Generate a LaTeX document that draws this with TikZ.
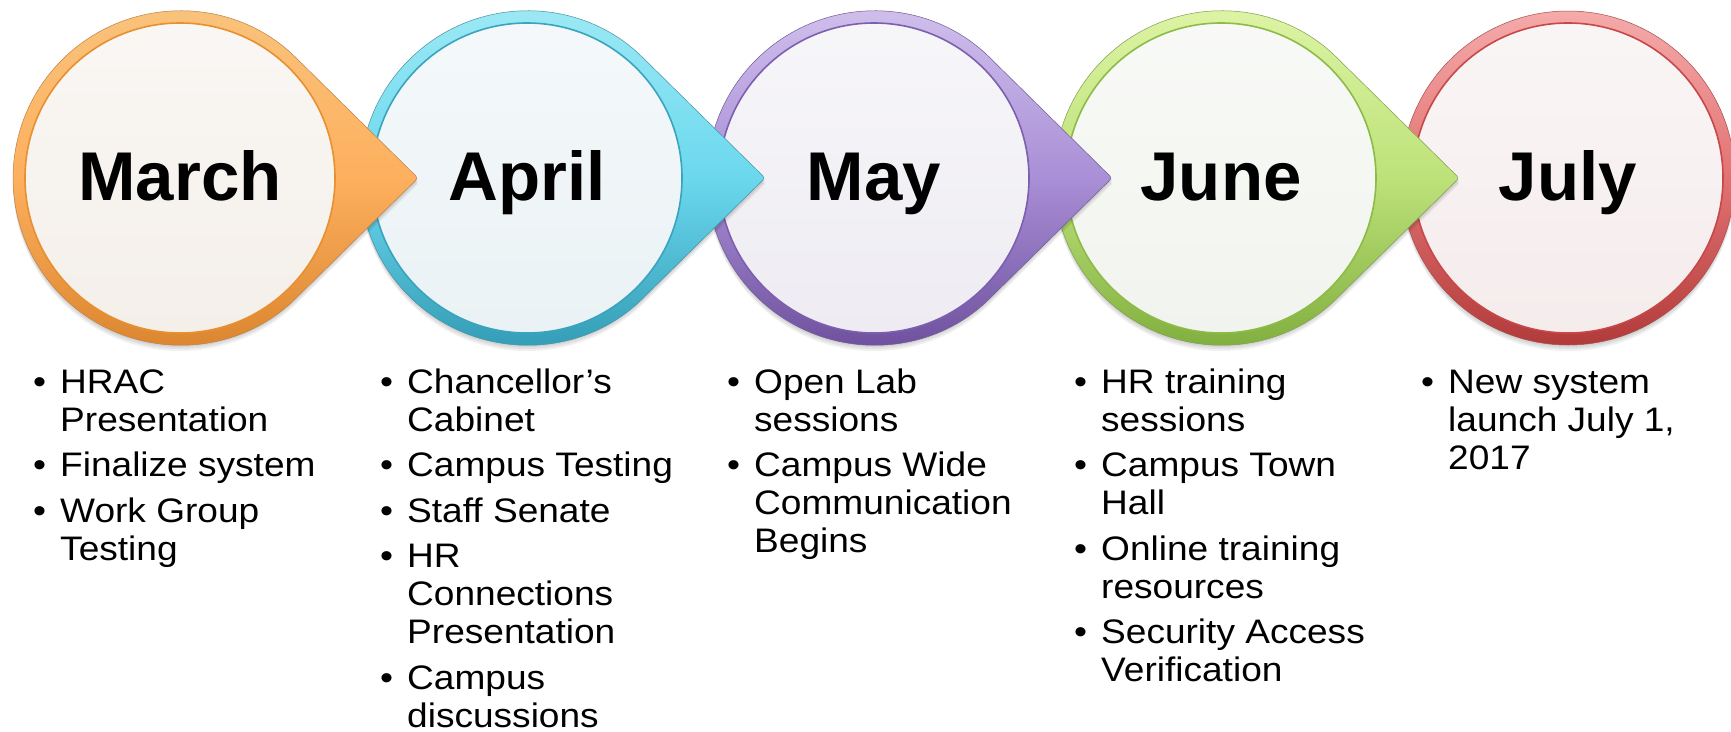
\documentclass[tikz,border=0pt]{standalone}
\usepackage{fontspec}
\setmainfont{Liberation Sans}
\newfontfamily\bodyfont[FakeStretch=1.09]{Liberation Sans}

% ring colours: light top, saturated middle, dark bottom, face fill, face outline
\definecolor{orTop}{HTML}{F9C47E}\definecolor{orMid}{HTML}{FDB05E}\definecolor{orBot}{HTML}{D9822C}
\definecolor{orIn}{HTML}{F4EFE9}\definecolor{orLine}{HTML}{E88F30}
\definecolor{cyTop}{HTML}{A0EAF5}\definecolor{cyMid}{HTML}{6BD8EE}\definecolor{cyBot}{HTML}{2F98B2}
\definecolor{cyIn}{HTML}{EAF2F5}\definecolor{cyLine}{HTML}{3AA3BE}
\definecolor{puTop}{HTML}{D3C3EE}\definecolor{puMid}{HTML}{A98FD6}\definecolor{puBot}{HTML}{6A4B9A}
\definecolor{puIn}{HTML}{EEECF2}\definecolor{puLine}{HTML}{7D5FB0}
\definecolor{grTop}{HTML}{E0F5A8}\definecolor{grMid}{HTML}{BDE27A}\definecolor{grBot}{HTML}{7CAB3A}
\definecolor{grIn}{HTML}{F1F4EE}\definecolor{grLine}{HTML}{8DBB47}
\definecolor{rdTop}{HTML}{F5AAAA}\definecolor{rdMid}{HTML}{E27272}\definecolor{rdBot}{HTML}{B23A3A}
\definecolor{rdIn}{HTML}{F5ECEC}\definecolor{rdLine}{HTML}{C84848}

\tikzset{
  ring/.style={draw=#1Bot!70!gray, line width=0.5pt, top color=#1Top, bottom color=#1Bot, middle color=#1Mid},
  face/.style={draw=#1Line, line width=1.6pt, top color=#1In!50!white, bottom color=#1In},
  dropshade/.style={fill=black, opacity=0.06},
  title/.style={font=\fontsize{69}{80}\selectfont\bfseries, anchor=base, inner sep=0},
  items/.style={font=\bodyfont\fontsize{34}{38}\selectfont, anchor=base west, inner sep=0},
}

% badge with a pointer to the right: #1 centre x, #2 colour set
\newcommand\pointerbadge[2]{%
  \foreach \dy in {2,4,6}{%
    \fill[dropshade] (#1+238,-178-\dy) -- (#1+117.3,-59.1-\dy)
      arc[start angle=45.4,end angle=314.6,radius=167pt] -- cycle;}
  \path[ring=#2, rounded corners=3pt] (#1+238,-178) -- (#1+117.3,-59.1)
    arc[start angle=45.4,end angle=314.6,radius=167pt] -- cycle;
  \path[face=#2] (#1,-178) circle[radius=155pt];
}
% plain round badge: #1 centre x, #2 colour set
\newcommand\roundbadge[2]{%
  \foreach \dy in {2,4,6}{%
    \fill[dropshade] (#1,-178-\dy) circle[radius=167pt];}
  \path[ring=#2] (#1,-178) circle[radius=167pt];
  \path[face=#2] (#1,-178) circle[radius=155pt];
}
\newcommand\bl{\makebox[27pt][l]{•}}

\begin{document}
\begin{tikzpicture}[x=1pt,y=1pt]
\useasboundingbox[fill=white] (0,0) rectangle (1731,-731);

% badges, right to left so each pointer lies over the next badge
\roundbadge{1568}{rd}
\pointerbadge{1221}{gr}
\pointerbadge{874}{pu}
\pointerbadge{527}{cy}
\pointerbadge{180}{or}

% month titles
\node[title] (march) at (180,-200) {March};
\node[title] (april) at (527,-200) {April};
\node[title] (may)   at (874,-200) {May};
\node[title] (june)  at (1221,-200) {June};
\node[title] (july)  at (1568,-200) {July};

% milestone lists
\node[items] (marchlist) at (33,-393) {\begin{tabular}[t]{@{}l@{}l@{}}
\bl & HRAC\\ & Presentation\\[7.5pt]
\bl & Finalize system\\[7.5pt]
\bl & Work Group\\ & Testing
\end{tabular}};

\node[items] (aprillist) at (380,-393) {\begin{tabular}[t]{@{}l@{}l@{}}
\bl & Chancellor’s\\ & Cabinet\\[7.5pt]
\bl & Campus Testing\\[7.5pt]
\bl & Staff Senate\\[7.5pt]
\bl & HR\\ & Connections\\ & Presentation\\[7.5pt]
\bl & Campus\\ & discussions
\end{tabular}};

\node[items] (maylist) at (727,-393) {\begin{tabular}[t]{@{}l@{}l@{}}
\bl & Open Lab\\ & sessions\\[7.5pt]
\bl & Campus Wide\\ & Communication\\ & Begins
\end{tabular}};

\node[items] (junelist) at (1074,-393) {\begin{tabular}[t]{@{}l@{}l@{}}
\bl & HR training\\ & sessions\\[7.5pt]
\bl & Campus Town\\ & Hall\\[7.5pt]
\bl & Online training\\ & resources\\[7.5pt]
\bl & Security Access\\ & Verification
\end{tabular}};

\node[items] (julylist) at (1421,-393) {\begin{tabular}[t]{@{}l@{}l@{}}
\bl & New system\\ & launch July 1,\\ & 2017
\end{tabular}};
\end{tikzpicture}
\end{document}
